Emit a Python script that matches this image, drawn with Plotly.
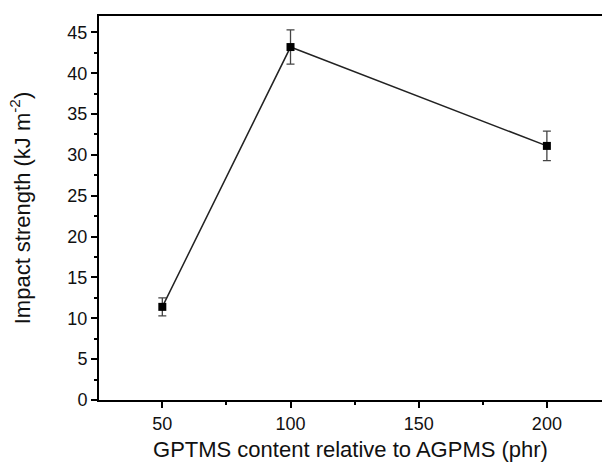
import plotly.graph_objects as go

gptms = [50, 100, 200]
impact = [11.4, 43.2, 31.1]
err = [1.1, 2.1, 1.8]

fig = go.Figure()
fig.add_trace(go.Scatter(
    x=gptms, y=impact,
    mode="lines+markers",
    line=dict(color="#222222", width=1.5),
    marker=dict(symbol="square", size=8, color="black"),
    error_y=dict(type="data", array=err, visible=True, color="#444444", thickness=1.3, width=4),
    showlegend=False,
))

font = "Liberation Sans, Arial, sans-serif"
fig.update_layout(
    width=602, height=462,
    margin=dict(l=99, r=0, t=16, b=62),
    paper_bgcolor="white", plot_bgcolor="white",
    font=dict(family=font, size=18, color="#111111"),
    xaxis=dict(
        range=[25.3, 221.5], tickvals=[50, 100, 150, 200],
        showgrid=False, zeroline=False,
        showline=True, linecolor="black", linewidth=2, mirror=True,
        ticks="outside", ticklen=6, tickwidth=2, tickcolor="black",
        minor=dict(tickvals=[75, 125, 175], ticks="outside", ticklen=3, tickwidth=2, tickcolor="black"),
        title=dict(text="GPTMS content relative to AGPMS (phr)", font=dict(size=22), standoff=11),
        automargin=False,
    ),
    yaxis=dict(
        range=[0, 47.0], tickvals=[0, 5, 10, 15, 20, 25, 30, 35, 40, 45],
        showgrid=False, zeroline=False,
        showline=True, linecolor="black", linewidth=2, mirror=False,
        ticks="outside", ticklen=6, tickwidth=2, tickcolor="black",
        minor=dict(tickvals=[2.5, 7.5, 12.5, 17.5, 22.5, 27.5, 32.5, 37.5, 42.5], ticks="outside", ticklen=3, tickwidth=2, tickcolor="black"),
        title=dict(text="Impact strength (kJ m<sup>-2</sup>)", font=dict(size=22), standoff=31),
        automargin=False,
    ),
)
fig.write_html("out.html", config={"displayModeBar": False})

with open("out.html", "r", encoding="utf-8") as f:
    html = f.read()
html = html.replace("<head>", "<head><style>html,body{margin:0;padding:0;overflow:hidden;}</style>", 1)
with open("out.html", "w", encoding="utf-8") as f:
    f.write(html)
